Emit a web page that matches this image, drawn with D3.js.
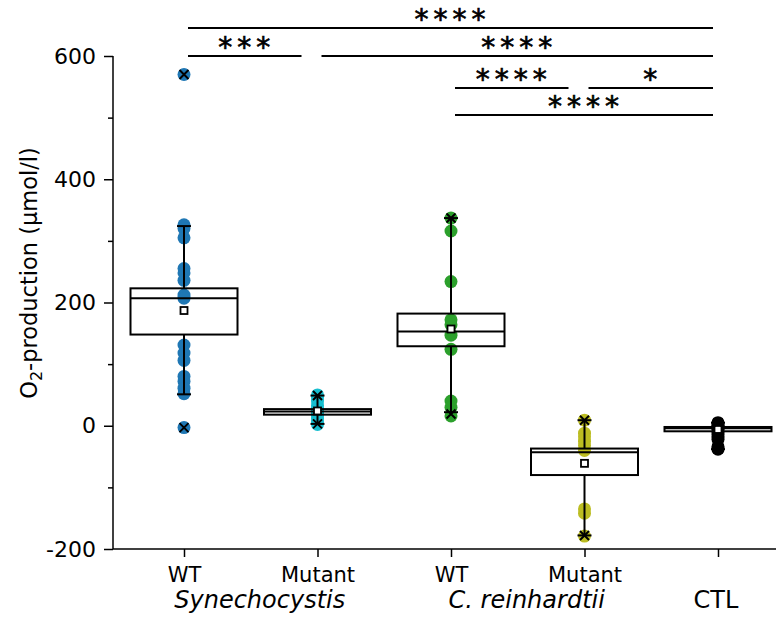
<!DOCTYPE html>
<html>
<head>
<meta charset="utf-8">
<script src="https://cdn.jsdelivr.net/npm/d3@7"></script>
<style>
  html, body { margin: 0; padding: 0; background: #fff; }
  svg { display: block; font-family: "DejaVu Sans", sans-serif; }
</style>
</head>
<body>
<svg id="chart" width="776" height="617"></svg>
<script>
// Groups along the x axis
const groups = ["synWT", "synMut", "chlWT", "chlMut", "ctl"];
const tickLabels = ["WT", "Mutant", "WT", "Mutant", ""];
const speciesLabels = [
  { text: "Synechocystis", from: 0, to: 1, italic: true },
  { text: "C. reinhardtii", from: 2, to: 3, italic: true }
];
const colors = ["#1f77b4", "#17becf", "#2ca02c", "#bcbd22", "#000000"];

// Individual measurements (µmol/l)
const synWT  = [570, 326, 320, 305, 255, 248, 236, 212, 207, 131, 118, 106, 80, 72, 61, 52, -3];
const synMut = [50, 46, 40, 33, 28, 26, 24, 22, 20, 17, 12, 6, 2];
const chlWT  = [337, 316, 234, 172, 164, 147, 124, 40, 30, 16];
const chlMut = [9, -12, -18, -25, -32, -40, -135, -142, -179];
const ctl    = [5, 3, 0, -2, -4, -6, -10, -14, -18, -22, -34, -38];
const points = [synWT, synMut, chlWT, chlMut, ctl];

// Box statistics per group
const q1      = [148, 18, 129, -80, -9];
const median  = [207, 23, 153, -43, -4];
const q3      = [223, 27, 182, -37, -2];
const mean    = [187, 24, 157, -61, -6];
const whiskLo = [51, 3, 22, -178, -38];
const whiskHi = [324, 49, 337, 9, 5];
const minVal  = [-3, 3, 19, -178, -38];
const maxVal  = [570, 49, 337, 9, 5];

// Axis ticks
const yMajor = [-200, 0, 200, 400, 600];
const yMinor = [-100, 100, 300, 500];

// Significance brackets: group indices, level (row from top), label
const sigA     = [0, 0, 1, 2, 3, 2];
const sigB     = [4, 1, 4, 3, 4, 4];
const sigLevel = [0, 1, 1, 2, 2, 3];
const sigText  = ["****", "***", "****", "****", "*", "****"];

const svg = d3.select("#chart");
const plotLeft = 113, plotRight = 776, plotTop = 56, plotBottom = 549;

const y = d3.scaleLinear().domain([-200, 600]).range([plotBottom, plotTop]);
const x = d3.scalePoint().domain(groups).range([184, 718]);

const boxW = 107, capW = 14;

// Y axis: major ticks with labels, minor ticks without
const yAxis = svg.append("g").attr("transform", `translate(${plotLeft},0)`)
  .call(d3.axisLeft(y).tickValues(yMajor).tickSize(9).tickSizeOuter(0).tickPadding(8)
    .tickFormat(d => String(d)));
yAxis.select(".domain").remove();
yAxis.selectAll("line").attr("stroke", "#000").attr("stroke-width", 1.5);
yAxis.selectAll("text").attr("font-size", 22).attr("fill", "#000")
  .attr("font-family", "DejaVu Sans, sans-serif");

const yMinorAxis = svg.append("g").attr("transform", `translate(${plotLeft},0)`)
  .call(d3.axisLeft(y).tickValues(yMinor).tickSize(5).tickSizeOuter(0).tickFormat(""));
yMinorAxis.select(".domain").remove();
yMinorAxis.selectAll("line").attr("stroke", "#000").attr("stroke-width", 1.5);

svg.append("line")
  .attr("x1", plotLeft).attr("x2", plotLeft)
  .attr("y1", y(600)).attr("y2", y(-200))
  .attr("stroke", "#000").attr("stroke-width", 1.5);

// X axis
const xAxis = svg.append("g").attr("transform", `translate(0,${plotBottom})`)
  .call(d3.axisBottom(x).tickSize(8).tickSizeOuter(0).tickPadding(10)
    .tickFormat((d, i) => tickLabels[i]));
xAxis.select(".domain").remove();
xAxis.selectAll("line").attr("stroke", "#000").attr("stroke-width", 1.5);
xAxis.selectAll("text").attr("font-size", 21).attr("fill", "#000")
  .attr("font-family", "DejaVu Sans, sans-serif");

svg.append("line")
  .attr("x1", plotLeft).attr("x2", plotRight)
  .attr("y1", plotBottom).attr("y2", plotBottom)
  .attr("stroke", "#000").attr("stroke-width", 1.5);

// Species / control labels under the tick labels
speciesLabels.forEach(s => {
  svg.append("text")
    .attr("x", (x(groups[s.from]) + x(groups[s.to])) / 2 + 9)
    .attr("y", 608)
    .attr("text-anchor", "middle")
    .attr("font-size", 24)
    .attr("font-style", s.italic ? "italic" : "normal")
    .text(s.text);
});
svg.append("text")
  .attr("x", x("ctl") - 2).attr("y", 608)
  .attr("text-anchor", "middle").attr("font-size", 24)
  .text("CTL");

// Y axis title
svg.append("text")
  .attr("transform", `translate(29,273) rotate(-90)`)
  .attr("text-anchor", "middle")
  .attr("dy", "0.35em")
  .attr("font-size", 22.5)
  .call(t => {
    t.append("tspan").text("O");
    t.append("tspan").attr("font-size", 16).attr("dy", 5).text("2");
    t.append("tspan").attr("dy", -5).text("-production (μmol/l)");
  });

// Boxes
const g = svg.append("g");
groups.forEach((grp, i) => {
  const cx = x(grp);
  const bg = g.append("g");

  // white box body
  bg.append("rect")
    .attr("x", cx - boxW / 2).attr("width", boxW)
    .attr("y", y(q3[i])).attr("height", y(q1[i]) - y(q3[i]))
    .attr("fill", "#fff");

  // data points
  bg.selectAll("circle").data(points[i]).join("circle")
    .attr("cx", cx).attr("cy", d => y(d)).attr("r", 6.5)
    .attr("fill", colors[i]);

  // whiskers with caps
  [[q3[i], whiskHi[i]], [q1[i], whiskLo[i]]].forEach(([a, b]) => {
    bg.append("line").attr("x1", cx).attr("x2", cx)
      .attr("y1", y(a)).attr("y2", y(b))
      .attr("stroke", "#000").attr("stroke-width", 2);
    bg.append("line").attr("x1", cx - capW / 2).attr("x2", cx + capW / 2)
      .attr("y1", y(b)).attr("y2", y(b))
      .attr("stroke", "#000").attr("stroke-width", 2);
  });

  // box outline and median
  bg.append("rect")
    .attr("x", cx - boxW / 2).attr("width", boxW)
    .attr("y", y(q3[i])).attr("height", y(q1[i]) - y(q3[i]))
    .attr("fill", "none").attr("stroke", "#000").attr("stroke-width", 2);
  bg.append("line")
    .attr("x1", cx - boxW / 2).attr("x2", cx + boxW / 2)
    .attr("y1", y(median[i])).attr("y2", y(median[i]))
    .attr("stroke", "#000").attr("stroke-width", 2);

  // mean marker
  bg.append("rect")
    .attr("x", cx - 3.5).attr("y", y(mean[i]) - 3.5)
    .attr("width", 7).attr("height", 7)
    .attr("fill", "#fff").attr("stroke", "#000").attr("stroke-width", 1.8);

  // min / max markers
  [minVal[i], maxVal[i]].forEach(v => {
    const s = 4.5;
    bg.append("path")
      .attr("d", `M${cx - s},${y(v) - s}L${cx + s},${y(v) + s}M${cx - s},${y(v) + s}L${cx + s},${y(v) - s}`)
      .attr("stroke", "#000").attr("stroke-width", 2);
  });
});

// Significance brackets
const rowY = [28, 56, 88, 115];
const last = groups.length - 1;
sigA.forEach((a, k) => {
  const b = sigB[k];
  const x1 = x(groups[a]) + 4;
  const x2 = x(groups[b]) - (b === last ? 5 : 16);
  const ly = rowY[sigLevel[k]];
  svg.append("line")
    .attr("x1", x1).attr("x2", x2).attr("y1", ly).attr("y2", ly)
    .attr("stroke", "#000").attr("stroke-width", 2);
  svg.append("text")
    .attr("x", (x1 + x2) / 2 + 2).attr("y", ly + 1)
    .attr("text-anchor", "middle")
    .attr("font-size", 28)
    .attr("letter-spacing", 5)
    .attr("stroke", "#000").attr("stroke-width", 0.7)
    .text(sigText[k]);
});
</script>
</body>
</html>
